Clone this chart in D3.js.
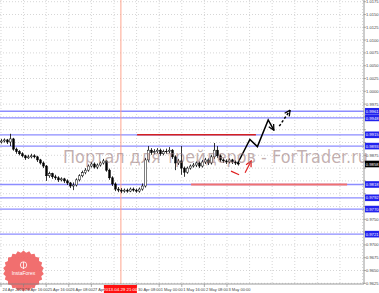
<!DOCTYPE html>
<html><head><meta charset="utf-8">
<script src="https://cdn.jsdelivr.net/npm/d3@7"></script>
<style>body{margin:0;background:#fff;overflow:hidden}svg{display:block;font-family:"Liberation Sans",Arial,sans-serif}</style>
</head><body><svg id="c" width="379" height="293"></svg>
<script>
// ---- data ----
const firstOpen = 0.9901;
const closes = [0.9903,0.9905,0.9901,0.9907,0.9887,0.9882,0.9878,0.9874,0.9870,0.9872,
0.9874,0.9872,0.9866,0.9860,0.9854,0.9835,0.9839,0.9833,0.9831,0.9827,
0.9829,0.9825,0.9821,0.9815,0.9817,0.9827,0.9835,0.9841,0.9846,0.9854,
0.9858,0.9852,0.9856,0.9860,0.9864,0.9846,0.9831,0.9819,0.9809,0.9807,
0.9805,0.9807,0.9805,0.9809,0.9807,0.9805,0.9809,0.9815,0.9866,0.9885,
0.9880,0.9882,0.9885,0.9878,0.9882,0.9883,0.9885,0.9872,0.9860,0.9864,
0.9850,0.9842,0.9850,0.9854,0.9856,0.9860,0.9854,0.9862,0.9866,0.9860,
0.9872,0.9885,0.9874,0.9866,0.9864,0.9862,0.9866,0.9862,0.9860,0.9858];
const highs = [0.9907,0.9908,0.9907,0.9917,0.9909,0.9890,0.9885,0.9881,0.9876,0.9876,
0.9878,0.9877,0.9874,0.9868,0.9863,0.9856,0.9843,0.9841,0.9837,0.9834,
0.9832,0.9831,0.9828,0.9823,0.9822,0.9830,0.9838,0.9845,0.9850,0.9857,
0.9862,0.9861,0.9859,0.9863,0.9868,0.9866,0.9849,0.9834,0.9822,0.9813,
0.9811,0.9810,0.9810,0.9812,0.9812,0.9810,0.9812,0.9820,0.9870,0.9893,
0.9889,0.9887,0.9889,0.9888,0.9886,0.9888,0.9891,0.9887,0.9875,0.9868,
0.9893,0.9853,0.9853,0.9857,0.9860,0.9863,0.9863,0.9866,0.9870,0.9869,
0.9876,0.9899,0.9893,0.9877,0.9869,0.9867,0.9869,0.9868,0.9865,0.9863];
const lows = [0.9898,0.9900,0.9897,0.9893,0.9884,0.9878,0.9875,0.9871,0.9866,0.9868,
0.9869,0.9869,0.9862,0.9857,0.9850,0.9825,0.9831,0.9829,0.9827,0.9823,
0.9824,0.9821,0.9817,0.9811,0.9807,0.9814,0.9824,0.9832,0.9838,0.9843,
0.9851,0.9849,0.9848,0.9853,0.9857,0.9843,0.9827,0.9815,0.9805,0.9803,
0.9801,0.9802,0.9802,0.9803,0.9804,0.9802,0.9802,0.9806,0.9812,0.9862,
0.9876,0.9877,0.9879,0.9874,0.9875,0.9878,0.9879,0.9868,0.9846,0.9856,
0.9837,0.9833,0.9839,0.9847,0.9851,0.9852,0.9850,0.9851,0.9858,0.9856,
0.9857,0.9868,0.9870,0.9862,0.9860,0.9858,0.9859,0.9858,0.9856,0.9855];
const priceTicks = ["1.0175","1.0150","1.0125","1.0100","1.0075","1.0050","1.0025","1.0000",
"0.9975","0.9950","0.9925","0.9900","0.9875","0.9850","0.9825","0.9800","0.9775","0.9750",
"0.9725","0.9700","0.9675","0.9650","0.9625"];
// time labels by grid line; grid line 5 is hidden under the cursor label
const timeLabels = ["24 Apr 2013","24 Apr 16:00","25 Apr 16:00","26 Apr 08:00","27 Apr 16:00",
null,"30 Apr 08:00","1 May 00:00","1 May 16:00","2 May 08:00","3 May 00:00"];
const levelPrices = [0.9961,0.9948,0.9915,0.9893,0.9818,0.9792,0.9770,0.9721];
const levelLabels = ["0.9961","0.9948","0.9915","0.9893","0.9818","0.9792","0.9770","0.9721"];
const currentPrice = 0.9858;
const resistBars = [45.2, 84.8], resistPrice = 0.9915;
const supportBars = [63.2, 115.2], supportPrice = 0.9818;
const fcBars = [78.6, 82.8, 85.3, 88.9, 90.8];
const fcPrices = [0.9858, 0.9906, 0.9892, 0.9944, 0.9924];
const fcDashBars = [92.6, 96.2];
const fcDashPrices = [0.9932, 0.9963];
const altBarsA = [76.5, 79.2], altPricesA = [0.9844, 0.9837];
const altBarsB = [81.2, 83.2], altPricesB = [0.9841, 0.9864];
const cursorBar = 39.8, cursorLabel = "2013.04.29 21:00";
const watermark = "Портал для трейдеров - ForTrader.ru";
const logoText = "InstaForex";

// ---- scales ----
const svg = d3.select("#c");
const plotR = 364, plotB = 284;
const x = d3.scaleLinear().domain([0, 121]).range([1.5, 364.5]);
const y = d3.scaleLinear().domain([0.9625, 1.0175]).range([283.3, 1.7]);
const gridStepBars = 7.533;

svg.append("rect").attr("width",379).attr("height",293).attr("fill","#fff");

// grid
const g = svg.append("g");
priceTicks.forEach(t => {
  g.append("line").attr("x1",0).attr("x2",plotR).attr("y1",y(+t)).attr("y2",y(+t))
   .attr("stroke","#c4c4c4").attr("stroke-width",0.7).attr("stroke-dasharray","1,2");
});
const vTicks = d3.range(0, 17).map(k => -0.17 + k*gridStepBars);
vTicks.forEach(b => {
  g.append("line").attr("x1",x(b)).attr("x2",x(b)).attr("y1",0).attr("y2",plotB)
   .attr("stroke","#c4c4c4").attr("stroke-width",0.7).attr("stroke-dasharray","1,2");
});

// level lines
levelPrices.forEach(p => {
  svg.append("line").attr("x1",0).attr("x2",plotR).attr("y1",y(p)).attr("y2",y(p))
    .attr("stroke","#8c8cff").attr("stroke-width",1.3);
});

// cursor vertical
svg.append("line").attr("x1",x(cursorBar)).attr("x2",x(cursorBar)).attr("y1",0).attr("y2",plotB)
  .attr("stroke","#ff9a80").attr("stroke-width",0.9);

// resistance / support
svg.append("line").attr("x1",x(resistBars[0])).attr("x2",x(resistBars[1]))
  .attr("y1",y(resistPrice)).attr("y2",y(resistPrice)).attr("stroke","#d42020").attr("stroke-width",1.6);
svg.append("line").attr("x1",x(supportBars[0])).attr("x2",x(supportBars[1]))
  .attr("y1",y(supportPrice)).attr("y2",y(supportPrice)).attr("stroke","#f07070").attr("stroke-width",1.8);

// candles
const candles = closes.map((c,i) => ({i, o: i ? closes[i-1] : firstOpen, c, h: highs[i], l: lows[i]}));
const cg = svg.append("g");
cg.selectAll("line").data(candles).join("line")
  .attr("x1",d=>x(d.i)).attr("x2",d=>x(d.i)).attr("y1",d=>y(d.h)).attr("y2",d=>y(d.l))
  .attr("stroke","#000").attr("stroke-width",0.8);
cg.selectAll("rect").data(candles).join("rect")
  .attr("x",d=>x(d.i)-0.9).attr("width",1.8)
  .attr("y",d=>y(Math.max(d.o,d.c))).attr("height",d=>Math.max(0.6,Math.abs(y(d.o)-y(d.c))))
  .attr("fill",d=>d.c>=d.o?"#fff":"#000").attr("stroke","#000").attr("stroke-width",0.5);

// markers
const defs = svg.append("defs");
function mk(id,color){
  defs.append("marker").attr("id",id).attr("viewBox","0 0 10 10").attr("refX",9).attr("refY",5)
    .attr("markerWidth",7).attr("markerHeight",7).attr("markerUnits","userSpaceOnUse").attr("orient","auto")
    .append("path").attr("d","M1,1 L9,5 L1,9").attr("fill","none").attr("stroke",color).attr("stroke-width",1.8);
}
mk("ab","#000"); mk("ar","#e02020");
const line = d3.line().x(d=>x(d[0])).y(d=>y(d[1]));
svg.append("path").attr("d",line(d3.zip(fcBars,fcPrices))).attr("fill","none")
  .attr("stroke","#000").attr("stroke-width",1.5).attr("marker-end","url(#ab)");
svg.append("path").attr("d",line(d3.zip(fcDashBars,fcDashPrices))).attr("fill","none")
  .attr("stroke","#000").attr("stroke-width",1.5).attr("stroke-dasharray","2.5,2").attr("marker-end","url(#ab)");
svg.append("path").attr("d",line(d3.zip(altBarsA,altPricesA))).attr("fill","none")
  .attr("stroke","#e02020").attr("stroke-width",1.2);
svg.append("path").attr("d",line(d3.zip(altBarsB,altPricesB))).attr("fill","none")
  .attr("stroke","#e02020").attr("stroke-width",1.2).attr("marker-end","url(#ar)");

// watermark
svg.append("text").attr("x",63).attr("y",163).attr("textLength",305).attr("lengthAdjust","spacingAndGlyphs")
  .attr("font-size",18).attr("font-family","'DejaVu Sans',sans-serif").attr("fill","#9a7a7a").attr("fill-opacity",0.6)
  .text(watermark);

// logo
const lg = svg.append("g").attr("transform","translate(23.5,271)");
const nPts = 44;
const star = d3.range(nPts).map(k => [k/nPts*2*Math.PI, k%2 ? 18.5 : 20.5]);
lg.append("path").attr("d", d3.lineRadial().curve(d3.curveLinearClosed)(star)).attr("fill","#ef5f5f").attr("fill-opacity",0.9);
lg.append("circle").attr("cx",0).attr("cy",-6).attr("r",3.2).attr("fill","none").attr("stroke","#fff").attr("stroke-width",0.8);
lg.append("line").attr("x1",0).attr("x2",0).attr("y1",-9).attr("y2",-2).attr("stroke","#fff").attr("stroke-width",0.8);
lg.append("text").attr("y",4).attr("text-anchor","middle").attr("font-size",5).attr("fill","#fff").text(logoText);

// axes frame
svg.append("line").attr("x1",plotR).attr("x2",plotR).attr("y1",0).attr("y2",plotB).attr("stroke","#808080").attr("stroke-width",0.8);
svg.append("line").attr("x1",0).attr("x2",plotR).attr("y1",plotB).attr("y2",plotB).attr("stroke","#808080").attr("stroke-width",0.8);

// price labels (skip those hidden by the flag labels)
const flagYs = levelPrices.concat([currentPrice]).map(p => y(p));
priceTicks.forEach(t => {
  const ty = y(+t);
  svg.append("line").attr("x1",plotR).attr("x2",plotR+2).attr("y1",ty).attr("y2",ty).attr("stroke","#808080").attr("stroke-width",0.6);
  if (flagYs.some(fy => Math.abs(fy - ty) < 6.5)) return;
  svg.append("text").attr("x",366).attr("y",ty+1.5).attr("font-size",4.1).attr("fill","#444").text(t);
});
levelPrices.forEach((p,i) => {
  svg.append("rect").attr("x",365).attr("y",y(p)-3.3).attr("width",14).attr("height",6.6).attr("fill","#2222ee");
  svg.append("text").attr("x",365.8).attr("y",y(p)+1.6).attr("font-size",4.2).attr("fill","#fff").text(levelLabels[i]);
});
svg.append("rect").attr("x",365).attr("y",y(currentPrice)-3.3).attr("width",14).attr("height",6.6).attr("fill","#000");
svg.append("text").attr("x",365.8).attr("y",y(currentPrice)+1.6).attr("font-size",4.2).attr("fill","#fff").text(currentPrice.toFixed(4));

// time labels
timeLabels.forEach((t,i) => {
  const px = x(vTicks[i]);
  svg.append("line").attr("x1",px).attr("x2",px).attr("y1",plotB).attr("y2",plotB+3).attr("stroke","#808080").attr("stroke-width",0.6);
  if (t) svg.append("text").attr("x",px+1.5).attr("y",290.5).attr("font-size",4).attr("fill","#444").text(t);
});
const cx = x(cursorBar);
svg.append("rect").attr("x",cx-17).attr("y",285).attr("width",33).attr("height",8).attr("fill","#ff1010");
svg.append("text").attr("x",cx-0.5).attr("y",290.6).attr("text-anchor","middle").attr("font-size",4.4).attr("fill","#fff").text(cursorLabel);
</script></body></html>
